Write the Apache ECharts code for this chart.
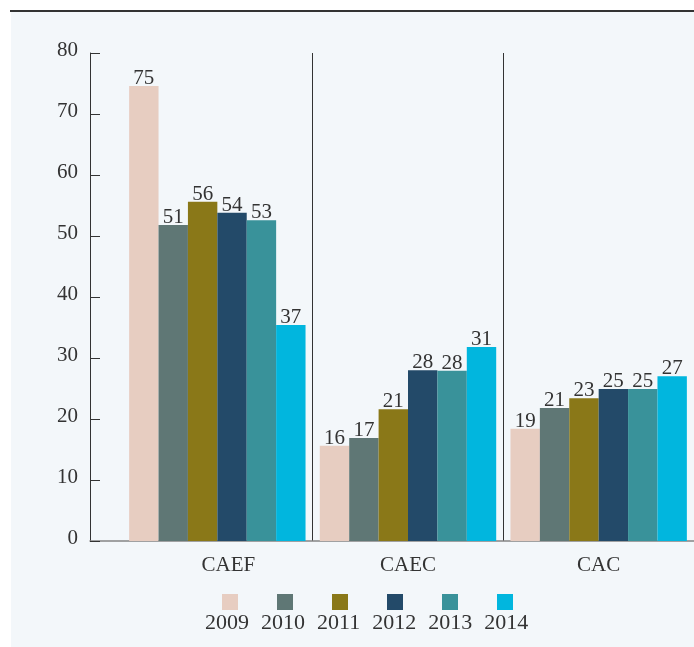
<!DOCTYPE html>
<html>
<head>
<meta charset="utf-8">
<script src="https://cdn.jsdelivr.net/npm/echarts@6/dist/echarts.min.js"></script>
<style>
  html, body { margin: 0; padding: 0; background: #ffffff; }
  #wrap { position: relative; width: 694px; height: 647px; overflow: hidden; }
  #topline { position: absolute; left: 10px; top: 10px; width: 684px; height: 2px; background: #333333; }
  #panel { position: absolute; left: 11px; top: 12px; right: 0; bottom: 0; background: #f3f7fa; }
  #chart { position: absolute; left: 0; top: 0; width: 694px; height: 647px; }
</style>
</head>
<body>
<div id="wrap">
  <div id="topline"></div>
  <div id="panel"></div>
  <div id="chart"></div>
</div>
<script>
// ---- data ----
const categories = ['CAEF', 'CAEC', 'CAC'];
const years = ['2009', '2010', '2011', '2012', '2013', '2014'];
// bar heights
const v2009 = [74.6, 15.6, 18.4];
const v2010 = [51.8, 16.9, 21.8];
const v2011 = [55.6, 21.6, 23.4];
const v2012 = [53.8, 28.0, 24.9];
const v2013 = [52.6, 27.9, 24.9];
const v2014 = [35.4, 31.8, 27.0];
// value labels printed on the bars
const l2009 = ['75', '16', '19'];
const l2010 = ['51', '17', '21'];
const l2011 = ['56', '21', '23'];
const l2012 = ['54', '28', '25'];
const l2013 = ['53', '28', '25'];
const l2014 = ['37', '31', '27'];
const yTicks = [0, 10, 20, 30, 40, 50, 60, 70, 80];

const values = [v2009, v2010, v2011, v2012, v2013, v2014];
const labels = [l2009, l2010, l2011, l2012, l2013, l2014];
const colors = ['#e7cdc1', '#5f7775', '#8a7818', '#234a69', '#39929a', '#01b6de'];

const FONT = 'Liberation Serif';
const TXT = '#333333';

const chart = echarts.init(document.getElementById('chart'), null, { renderer: 'canvas' });

const series = years.map((y, i) => ({
  name: y,
  type: 'bar',
  xAxisIndex: 1,
  yAxisIndex: 1,
  data: values[i],
  barWidth: 29.4,
  barGap: '0%',
  itemStyle: { color: colors[i] },
  label: {
    show: true,
    position: 'top',
    distance: -3,
    color: TXT,
    fontFamily: FONT,
    fontSize: 21,
    formatter: p => labels[i][p.dataIndex]
  }
}));

chart.setOption({
  animation: false,
  backgroundColor: 'transparent',
  color: colors,
  grid: [
    { left: 90, width: 610, top: 53, bottom: 106 },
    { left: 122, width: 578, top: 53, bottom: 106 }
  ],
  xAxis: [
    {
      type: 'value', gridIndex: 0, min: 0, max: 1,
      axisLine: { show: true, onZero: false, lineStyle: { color: '#858585', width: 1.5 } },
      axisTick: { show: false }, axisLabel: { show: false }, splitLine: { show: false }
    },
    {
      type: 'category', gridIndex: 1, data: categories,
      axisLine: { show: false }, axisTick: { show: false },
      axisLabel: {
        color: TXT, fontFamily: FONT, fontSize: 21, margin: 14,
        formatter: (v, idx) => idx === 0 ? '{first|' + v + '}' : v,
        rich: { first: { color: TXT, fontFamily: FONT, fontSize: 21, padding: [0, 0, 0, 22] } }
      },
      splitLine: { show: true, showMinLine: false, showMaxLine: false, lineStyle: { color: '#333333', width: 1 } }
    }
  ],
  yAxis: [
    {
      type: 'value', gridIndex: 0, min: yTicks[0], max: yTicks[yTicks.length - 1], interval: 10,
      axisLine: { show: true, lineStyle: { color: '#333333', width: 1 } },
      axisTick: { show: true, inside: true, length: 10, lineStyle: { color: '#333333' } },
      axisLabel: {
        color: TXT, fontFamily: FONT, fontSize: 21, margin: 12,
        formatter: '{t|{value}}',
        rich: { t: { color: TXT, fontFamily: FONT, fontSize: 21, padding: [0, 0, 6, 0] } }
      },
      splitLine: { show: false }
    },
    {
      type: 'value', gridIndex: 1, min: 0, max: 80, interval: 10, show: false,
      splitLine: { show: false }
    }
  ],
  legend: [
    {
      data: years, left: 222, top: 594, padding: 0, itemWidth: 16, itemHeight: 16, itemGap: 39,
      icon: 'rect', formatter: () => '', textStyle: { fontSize: 1 }
    },
    {
      data: years.map(y => ({ name: y, icon: 'none' })), left: 200, top: 612, padding: 0,
      itemWidth: 0, itemHeight: 0, itemGap: 7,
      textStyle: { color: TXT, fontFamily: FONT, fontSize: 22 }
    }
  ],
  series: series
});
</script>
</body>
</html>
